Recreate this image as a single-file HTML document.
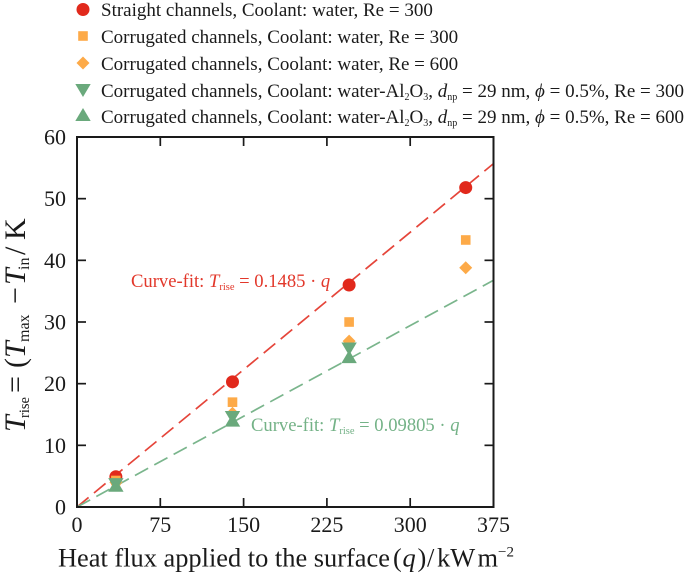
<!DOCTYPE html>
<html>
<head>
<meta charset="utf-8">
<style>
html,body{margin:0;padding:0;background:#fff;width:685px;height:576px;overflow:hidden}
svg{display:block;font-family:"Liberation Serif",serif}
text{fill:#1a1a1a}
.leg{font-size:19px}
.it{font-style:italic}
</style>
</head>
<body>
<svg id="chart" xmlns="http://www.w3.org/2000/svg" width="685" height="576" viewBox="0 0 685 576">
  <g>
    <text class="leg" x="101" y="16">Straight channels, Coolant: water, Re = 300</text>
    <text class="leg" x="101" y="43">Corrugated channels, Coolant: water, Re = 300</text>
    <text class="leg" x="101" y="70">Corrugated channels, Coolant: water, Re = 600</text>
    <text class="leg" x="101" y="97">Corrugated channels, Coolant: water-Al<tspan font-size="10" dy="3">2</tspan><tspan dy="-3">O</tspan><tspan font-size="10" dy="3">3</tspan><tspan dy="-3">, </tspan><tspan class="it">d</tspan><tspan font-size="10" dy="3">np</tspan><tspan dy="-3"> = 29 nm, </tspan><tspan class="it">ϕ</tspan> = 0.5%, Re = 300</text>
    <text class="leg" x="101" y="123">Corrugated channels, Coolant: water-Al<tspan font-size="10" dy="3">2</tspan><tspan dy="-3">O</tspan><tspan font-size="10" dy="3">3</tspan><tspan dy="-3">, </tspan><tspan class="it">d</tspan><tspan font-size="10" dy="3">np</tspan><tspan dy="-3"> = 29 nm, </tspan><tspan class="it">ϕ</tspan> = 0.5%, Re = 600</text>
  </g>
  <g id="fits"></g>
  <g id="marks"></g>
  <g id="legmarks"></g>
  <g id="axes"></g>
  <text x="131" y="287" font-size="18.6" style="fill:#e2382b">Curve-fit: <tspan class="it">T</tspan><tspan font-size="10.5" dy="3">rise</tspan><tspan dy="-3"> = 0.1485 · </tspan><tspan class="it">q</tspan></text>
  <text x="251" y="431" font-size="18.6" style="fill:#74b287">Curve-fit: <tspan class="it">T</tspan><tspan font-size="10.5" dy="3">rise</tspan><tspan dy="-3"> = 0.09805 · </tspan><tspan class="it">q</tspan></text>
  <text x="58" y="566.5" font-size="26.4">Heat flux applied to the surface<tspan x="393">(</tspan><tspan class="it" x="402.5">q</tspan><tspan x="417.5">)</tspan><tspan x="427">/</tspan><tspan x="437">kW</tspan><tspan x="477.5">m</tspan><tspan x="498" font-size="15" dy="-10">−2</tspan></text>
  <text transform="translate(25,433) rotate(-90)" font-size="30"><tspan class="it" x="1">T</tspan><tspan x="15" font-size="14.5" dy="4">rise</tspan><tspan x="40" dy="-4">=</tspan><tspan x="65">(</tspan><tspan class="it" x="75">T</tspan><tspan x="91" font-size="16" dy="4">max</tspan><tspan x="129" dy="-4">−</tspan><tspan class="it" x="148">T</tspan><tspan x="163" font-size="16" dy="4">in</tspan><tspan x="178" dy="-4">/</tspan><tspan x="193">K</tspan></text>
</svg>
<script>
var qValues = [35, 140, 245, 350];
var straightWater300 = [4.9, 20.3, 36.0, 51.8];
var corrugatedWater300 = [4.3, 17.0, 30.0, 43.3];
var corrugatedWater600 = [4.0, 15.2, 26.9, 38.8];
var corrugatedAl2o3300 = [3.7, 14.6, 25.7];
var corrugatedAl2o3600 = [3.45, 14.0, 24.3];
var xTicks = [0, 75, 150, 225, 300, 375];
var yTicks = [0, 10, 20, 30, 40, 50, 60];
var fitSlopes = [0.1485, 0.09805];
var xMax = 375, yMax = 60;

var NS = 'http://www.w3.org/2000/svg';
var L = 77, R = 493.5, T = 137, B = 507;
var RED = '#e1291c', ORANGE = '#fdaa48', GREEN = '#6aa97c';
function sx(v) { return L + (v / xMax) * (R - L); }
function sy(v) { return B - (v / yMax) * (B - T); }
function mk(tag, attrs, parent) {
  var el = document.createElementNS(NS, tag);
  for (var k in attrs) el.setAttribute(k, attrs[k]);
  parent.appendChild(el);
  return el;
}
function marker(kind, cx, cy, parent) {
  var el;
  if (kind === 'circle') {
    el = mk('circle', { cx: cx, cy: cy, r: 6.5, fill: RED }, parent);
  } else if (kind === 'square') {
    el = mk('rect', { x: cx - 4.8, y: cy - 4.8, width: 9.6, height: 9.6, fill: ORANGE }, parent);
  } else if (kind === 'diamond') {
    el = mk('polygon', { points: [cx, cy - 6.5, cx + 6.5, cy, cx, cy + 6.5, cx - 6.5, cy].join(' '), fill: ORANGE }, parent);
  } else if (kind === 'down') {
    el = mk('polygon', { points: [cx - 7.7, cy - 6, cx + 7.7, cy - 6, cx, cy + 7].join(' '), fill: GREEN }, parent);
  } else {
    el = mk('polygon', { points: [cx - 7.7, cy + 6, cx + 7.7, cy + 6, cx, cy - 7].join(' '), fill: GREEN }, parent);
  }
  return el;
}

var axes = document.getElementById('axes');
var fits = document.getElementById('fits');
var marks = document.getElementById('marks');
var legmarks = document.getElementById('legmarks');

var fitColors = ['#e5453a', '#7ab58c'];
var fitNames = ['fit-line-red', 'fit-line-green'];
fitSlopes.forEach(function (m, i) {
  var xEnd = Math.min(xMax, yMax / m);
  var line = mk('line', { x1: sx(0), y1: sy(0), x2: sx(xEnd), y2: sy(m * xEnd), stroke: fitColors[i], 'stroke-width': 1.7, 'stroke-dasharray': '15 7' }, fits);
  
  
});

var seriesList = [
  { vals: straightWater300, kind: 'circle', name: 'straight-water-300' },
  { vals: corrugatedWater300, kind: 'square', name: 'corrugated-water-300' },
  { vals: corrugatedWater600, kind: 'diamond', name: 'corrugated-water-600' },
  { vals: corrugatedAl2o3300, kind: 'down', name: 'corrugated-al2o3-300' },
  { vals: corrugatedAl2o3600, kind: 'up', name: 'corrugated-al2o3-600' }
];
var legendY = [9.5, 36, 63, 90, 115];
seriesList.forEach(function (s, i) {
  s.vals.forEach(function (v, j) {
    var pt = marker(s.kind, sx(qValues[j]), sy(v), marks);
    
    
  });
  var lm = marker(s.kind, 83, legendY[i], legmarks);
  
  
});

var frame = mk('rect', { x: L, y: T, width: R - L, height: B - T, fill: 'none', stroke: '#1a1a1a', 'stroke-width': 2 }, axes);



xTicks.forEach(function (v) {
  var x = sx(v);
  if (v > 0 && v < xMax) {
    var t1 = mk('line', { x1: x, y1: B, x2: x, y2: B - 9, stroke: '#1a1a1a', 'stroke-width': 1.7 }, axes);
    
    
    var t2 = mk('line', { x1: x, y1: T, x2: x, y2: T + 9, stroke: '#1a1a1a', 'stroke-width': 1.7 }, axes);
    
    
  }
  var lab = mk('text', { x: x, y: 532, 'font-size': 22, 'text-anchor': 'middle' }, axes);
  lab.textContent = v;
  
  
});
yTicks.forEach(function (v) {
  var y = sy(v);
  if (v > 0 && v < yMax) {
    var t1 = mk('line', { x1: L, y1: y, x2: L + 9, y2: y, stroke: '#1a1a1a', 'stroke-width': 1.7 }, axes);
    
    
    var t2 = mk('line', { x1: R, y1: y, x2: R - 9, y2: y, stroke: '#1a1a1a', 'stroke-width': 1.7 }, axes);
    
    
  }
  var lab = mk('text', { x: 66, y: y + 7.5, 'font-size': 22, 'text-anchor': 'end' }, axes);
  lab.textContent = v;
  
  
});
</script>
</body>
</html>
